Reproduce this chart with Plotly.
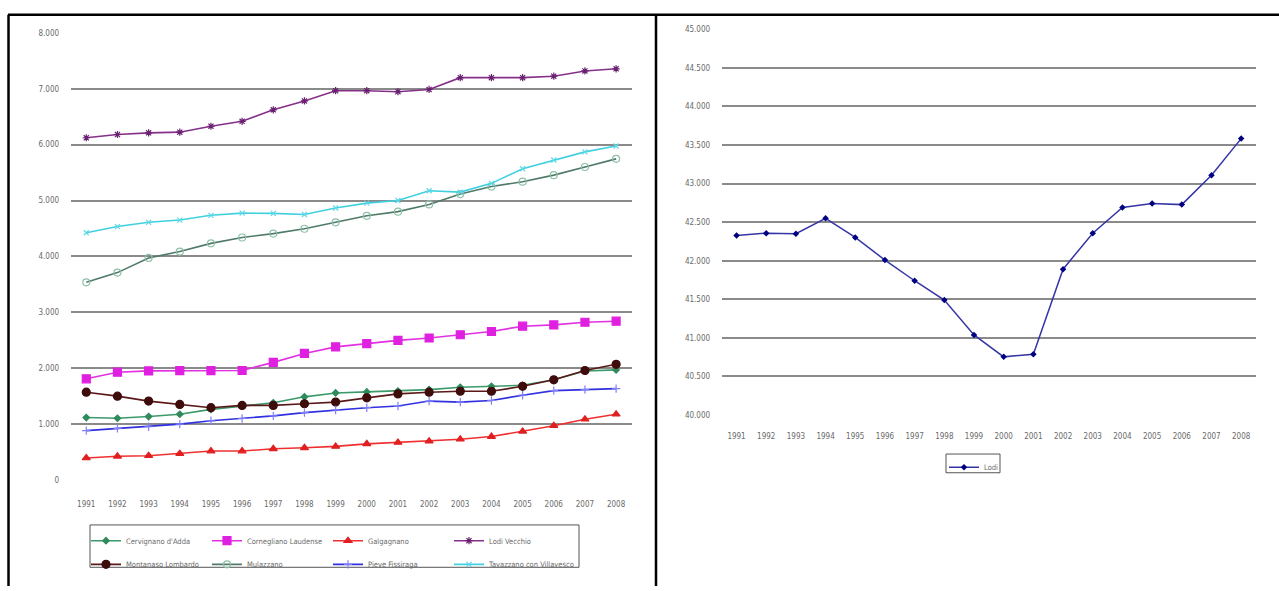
import plotly.graph_objects as go

# Years shown on both category axes
years = [1991, 1992, 1993, 1994, 1995, 1996, 1997, 1998, 1999,
         2000, 2001, 2002, 2003, 2004, 2005, 2006, 2007, 2008]
year_labels = [str(y) for y in years]

# Resident population per municipality
cervignano = [1116, 1104, 1134, 1175, 1263, 1322, 1381, 1487, 1557,
              1575, 1590, 1616, 1658, 1675, 1693, 1792, 1950, 1969]
cornegliano = [1810, 1928, 1951, 1955, 1955, 1958, 2104, 2263, 2381,
               2439, 2497, 2540, 2598, 2656, 2751, 2774, 2822, 2840]
galgagnano = [393, 423, 434, 469, 517, 517, 557, 575, 600,
              646, 670, 693, 728, 776, 869, 970, 1086, 1175]
lodi_vecchio = [6123, 6181, 6211, 6223, 6329, 6417, 6623, 6782, 6965,
                6965, 6947, 6987, 7198, 7198, 7198, 7224, 7318, 7357]
montanaso = [1570, 1499, 1411, 1351, 1293, 1334, 1334, 1363, 1393,
             1469, 1540, 1570, 1587, 1587, 1675, 1792, 1958, 2069]
mulazzano = [3536, 3710, 3972, 4087, 4233, 4338, 4408, 4495, 4610,
             4726, 4801, 4930, 5115, 5250, 5337, 5454, 5600, 5745]
pieve = [882, 922, 952, 998, 1058, 1099, 1146, 1205, 1252,
         1293, 1322, 1411, 1393, 1422, 1516, 1598, 1616, 1634]
tavazzano = [4424, 4534, 4610, 4650, 4735, 4775, 4770, 4750, 4866,
             4953, 5000, 5175, 5150, 5307, 5568, 5725, 5870, 5975]

lodi = [42328, 42357, 42349, 42549, 42302, 42008, 41740, 41489, 41038,
        40753, 40787, 41890, 42357, 42689, 42740, 42727, 43107, 43583]

W, H = 1279, 591


def px(x):
    return x / W


def py(y):
    return 1 - y / H


FONT = "DejaVu Sans Condensed, Liberation Sans Narrow, Liberation Sans, sans-serif"
TICK_FONT = dict(family=FONT, size=8, color="#6a6a6a")
LEG_FONT = dict(family=FONT, size=7.5, color="#6a6a6a")

fig = go.Figure()

series = [
    # name, values, line colour, marker symbol, marker size, marker colour, legend slot
    ("Cervignano d'Adda", cervignano, "#3a9a6a", "diamond", 5, "#2f8a5c", "legend"),
    ("Cornegliano Laudense", cornegliano, "#e230e2", "square", 8, "#e020e0", "legend"),
    ("Galgagnano", galgagnano, "#f03030", "triangle-up", 7, "#e02020", "legend"),
    ("Lodi Vecchio", lodi_vecchio, "#86308a", "asterisk-open", 6, "#6a2070", "legend"),
    ("Montanaso Lombardo", montanaso, "#5a1818", "circle", 8, "#3f0c0c", "legend2"),
    ("Mulazzano", mulazzano, "#4f7a68", "circle-open", 7, "#8ec0a8", "legend2"),
    ("Pieve Fissiraga", pieve, "#3030e0", "cross-thin-open", 6, "#8080ff", "legend2"),
    ("Tavazzano con Villavesco", tavazzano, "#40d0e0", "x-thin-open", 5, "#60d8e8", "legend4"),
]

for name, vals, lc, sym, ms, mc, leg in series:
    fig.add_trace(go.Scatter(
        x=years, y=vals, name=name, mode="lines+markers",
        line=dict(color=lc, width=1.6),
        marker=dict(symbol=sym, size=ms, color=mc,
                    line=dict(color=mc, width=1.2)),
        xaxis="x", yaxis="y", legend=leg,
    ))

fig.add_trace(go.Scatter(
    x=years, y=lodi, name="Lodi", mode="lines+markers",
    line=dict(color="#3535a5", width=1.5),
    marker=dict(symbol="diamond", size=5, color="#000080"),
    xaxis="x2", yaxis="y2", legend="legend3",
))

grid = dict(showgrid=True, gridcolor="#8a8a8a", gridwidth=1.6, zeroline=False,
            showline=False, ticks="outside", ticklen=9,
            tickcolor="rgba(0,0,0,0)", tickfont=TICK_FONT, tickformat=",d")
xcat = dict(showgrid=False, zeroline=False, showline=False,
            range=[1990.5, 2008.5], tickvals=years, ticktext=year_labels,
            ticks="outside", tickcolor="rgba(0,0,0,0)", tickfont=TICK_FONT)

legend_row = dict(orientation="h", xanchor="left", yanchor="middle",
                  font=LEG_FONT, bgcolor="rgba(0,0,0,0)", borderwidth=0,
                  entrywidth=76, entrywidthmode="pixels", itemwidth=30,
                  tracegroupgap=0)
legend_single = dict(orientation="h", xanchor="left", yanchor="middle",
                     font=LEG_FONT, bgcolor="rgba(0,0,0,0)", borderwidth=0,
                     itemwidth=30)

fig.update_layout(
    width=W, height=H,
    margin=dict(l=0, r=0, t=0, b=0),
    paper_bgcolor="white", plot_bgcolor="white",
    separators=",.",
    xaxis=dict(domain=[px(70.7), px(631.7)], anchor="y", ticklen=16, **xcat),
    yaxis=dict(domain=[py(483.3), py(29.3)], anchor="x",
               range=[0, 8000], dtick=1000, **grid),
    xaxis2=dict(domain=[px(721.7), px(1256)], anchor="y2", ticklen=13, **xcat),
    yaxis2=dict(domain=[py(417.3), py(25.7)], anchor="x2",
                range=[40000, 45000], dtick=500, **grid),
    legend=dict(x=px(86), y=py(545), **legend_row),
    legend2=dict(x=px(86), y=py(569), **legend_row),
    legend4=dict(x=px(86 + 3 * 121), y=py(569), **legend_single),
    legend3=dict(x=px(944), y=py(470.5), **legend_single),
    showlegend=True,
)

# Page frame and the boxes around the legends
frame = dict(color="black", width=2.5)
fig.add_shape(type="line", xref="paper", yref="paper",
              x0=px(8), x1=1, y0=py(11), y1=py(11), line=frame)
fig.add_shape(type="line", xref="paper", yref="paper",
              x0=px(8.5), x1=px(8.5), y0=py(11), y1=0, line=frame)
fig.add_shape(type="line", xref="paper", yref="paper",
              x0=px(656), x1=px(656), y0=py(11), y1=0, line=frame)
fig.add_shape(type="rect", xref="paper", yref="paper",
              x0=px(90), x1=px(579), y0=py(572), y1=py(529),
              line=dict(color="#555555", width=1))
fig.add_shape(type="rect", xref="paper", yref="paper",
              x0=px(946), x1=px(1000), y0=py(476), y1=py(457),
              line=dict(color="#555555", width=1))

fig.write_html("out.html")
